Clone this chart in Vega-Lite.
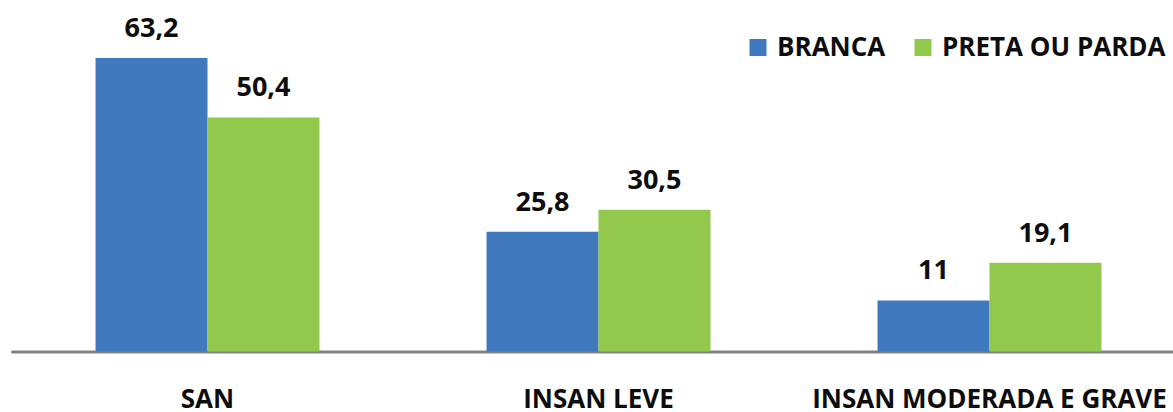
{
  "$schema": "https://vega.github.io/schema/vega-lite/v6.json",
  "autosize": "none",
  "padding": {"left": 12, "top": 11.5, "right": 0, "bottom": 61},
  "width": 1173,
  "height": 340,
  "background": "white",
  "config": {
    "view": {"stroke": null},
    "locale": {
      "number": {"decimal": ",", "thousands": ".", "grouping": [3], "currency": ["", ""]}
    },
    "font": "Open Sans"
  },
  "data": {
    "values": [
      {"grupo": "SAN", "raca": "BRANCA", "valor": 63.2},
      {"grupo": "SAN", "raca": "PRETA OU PARDA", "valor": 50.4},
      {"grupo": "INSAN LEVE", "raca": "BRANCA", "valor": 25.8},
      {"grupo": "INSAN LEVE", "raca": "PRETA OU PARDA", "valor": 30.5},
      {"grupo": "INSAN MODERADA E GRAVE", "raca": "BRANCA", "valor": 11},
      {"grupo": "INSAN MODERADA E GRAVE", "raca": "PRETA OU PARDA", "valor": 19.1}
    ]
  },
  "encoding": {
    "x": {
      "field": "grupo",
      "type": "nominal",
      "sort": ["SAN", "INSAN LEVE", "INSAN MODERADA E GRAVE"],
      "scale": {"paddingInner": 0, "paddingOuter": 0},
      "axis": {
        "title": null,
        "labelAngle": 0,
        "ticks": false,
        "tickSize": 0,
        "domain": true,
        "domainColor": "#808080",
        "domainWidth": 3,
        "domainCap": "round",
        "labelFont": "Open Sans",
        "labelFontWeight": "bold",
        "labelFontSize": 26,
        "labelColor": "#0d0d0d",
        "labelBaseline": "alphabetic",
        "labelPadding": 56,
        "labelOverlap": false,
        "labelLimit": 0
      }
    },
    "xOffset": {
      "field": "raca",
      "type": "nominal",
      "sort": ["BRANCA", "PRETA OU PARDA"],
      "scale": {"paddingInner": 0, "paddingOuter": 0.746}
    },
    "y": {
      "field": "valor",
      "type": "quantitative",
      "scale": {"domain": [0, 73.2], "nice": false, "zero": true},
      "axis": null
    }
  },
  "layer": [
    {
      "mark": {"type": "bar"},
      "encoding": {
        "color": {
          "field": "raca",
          "type": "nominal",
          "sort": ["BRANCA", "PRETA OU PARDA"],
          "scale": {"domain": ["BRANCA", "PRETA OU PARDA"], "range": ["#4179BE", "#92C84C"]},
          "legend": {
            "title": null,
            "orient": "none",
            "legendX": 733,
            "legendY": 23,
            "direction": "horizontal",
            "symbolType": "square",
            "symbolSize": 289,
            "symbolStrokeWidth": 0,
            "symbolOpacity": 1,
            "labelFont": "Open Sans",
            "labelFontWeight": "bold",
            "labelFontSize": 26,
            "labelColor": "#0d0d0d",
            "labelOffset": 6,
            "columnPadding": 24,
            "labelLimit": 0,
            "padding": 0
          }
        }
      }
    },
    {
      "mark": {
        "type": "text",
        "baseline": "alphabetic",
        "align": "center",
        "dy": -21,
        "font": "Open Sans",
        "fontWeight": "bold",
        "fontSize": 27,
        "color": "#0d0d0d"
      },
      "encoding": {
        "text": {"field": "valor", "type": "quantitative", "format": ".1~f"}
      }
    }
  ]
}
